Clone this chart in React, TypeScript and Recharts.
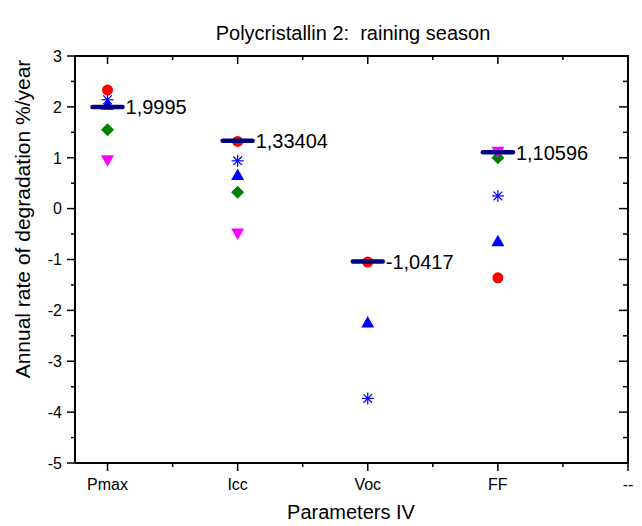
import React from "react";
import { ComposedChart, Scatter, XAxis, YAxis, Label } from "recharts";

// categories on the x axis (positions 1..5)
const categories = ["Pmax", "Icc", "Voc", "FF", "--"];

// annual degradation rate per parameter, one array per marker series
const redCircle = [2.33, 1.32, -1.05, -1.36];
const blueStar = [2.14, 0.94, -3.73, 0.25];
const blueTriangle = [2.04, 0.66, -2.24, -0.64];
const greenDiamond = [1.55, 0.32, null, 1.0];
const magentaDown = [0.95, -0.49, null, 1.12];

// mean values and their printed labels
const meanValues = [1.9995, 1.33404, -1.0417, 1.10596];
const meanLabels = ["1,9995", "1,33404", "-1,0417", "1,10596"];

const xTicks = [1, 1.5, 2, 2.5, 3, 3.5, 4, 4.5, 5];
const yTicks = [-5, -4.5, -4, -3.5, -3, -2.5, -2, -1.5, -1, -0.5, 0, 0.5, 1, 1.5, 2, 2.5, 3];
const X_DOMAIN = [0.75, 5];
const Y_DOMAIN = [-5, 3];

const FONT = "'Liberation Sans', Arial, sans-serif";

// chart box
const W = 642;
const H = 526;
const MARGIN = { top: 56, right: 14, bottom: 0, left: 0 };
const Y_AXIS_W = 75;
const X_AXIS_H = 63;
const PLOT_L = MARGIN.left + Y_AXIS_W;
const PLOT_T = MARGIN.top;
const PLOT_W = W - MARGIN.left - MARGIN.right - Y_AXIS_W;
const PLOT_H = H - MARGIN.top - MARGIN.bottom - X_AXIS_H;

type Pt = { x: number; y: number; label?: string };

function toPoints(values: (number | null)[], labels?: string[]): Pt[] {
  const out: Pt[] = [];
  values.forEach((v, i) => {
    if (v !== null) out.push({ x: i + 1, y: v, label: labels ? labels[i] : undefined });
  });
  return out;
}

const isMajor = (v: number) => Number.isInteger(v);

function BottomTick(props: any) {
  const { x, y, payload } = props;
  const major = isMajor(payload.value);
  return (
    <g>
      <line x1={x} x2={x} y1={y} y2={y + (major ? 8 : 4)} stroke="#000" strokeWidth={1.5} />
      {major && (
        <text x={x} y={y + 27} textAnchor="middle" fontSize={16} fontFamily={FONT} fill="#000">
          {categories[payload.value - 1]}
        </text>
      )}
    </g>
  );
}

function LeftTick(props: any) {
  const { x, y, payload } = props;
  const major = isMajor(payload.value);
  return (
    <g>
      <line x1={x} x2={x - (major ? 8 : 4)} y1={y} y2={y} stroke="#000" strokeWidth={1.5} />
      {major && (
        <text x={x - 13} y={y} dy="0.36em" textAnchor="end" fontSize={16} fontFamily={FONT} fill="#000">
          {payload.value}
        </text>
      )}
    </g>
  );
}

// top and right frame with inward ticks, laid over the chart on the same plot box
function Frame() {
  const sx = (v: number) => PLOT_L + ((v - X_DOMAIN[0]) / (X_DOMAIN[1] - X_DOMAIN[0])) * PLOT_W;
  const sy = (v: number) => PLOT_T + ((Y_DOMAIN[1] - v) / (Y_DOMAIN[1] - Y_DOMAIN[0])) * PLOT_H;
  const R = PLOT_L + PLOT_W;
  const B = PLOT_T + PLOT_H;
  return (
    <svg
      width={W}
      height={H}
      style={{ position: "absolute", left: 0, top: 0, pointerEvents: "none" }}
    >
      <line x1={PLOT_L} x2={R + 1} y1={PLOT_T} y2={PLOT_T} stroke="#000" strokeWidth={2} />
      <line x1={R} x2={R} y1={PLOT_T} y2={B + 1} stroke="#000" strokeWidth={2} />
      {xTicks
        .filter((v) => v < X_DOMAIN[1])
        .map((v) => (
          <line key={"t" + v} x1={sx(v)} x2={sx(v)} y1={PLOT_T} y2={PLOT_T + (isMajor(v) ? 8 : 4)} stroke="#000" strokeWidth={1.5} />
        ))}
      {yTicks
        .filter((v) => v < Y_DOMAIN[1] && v > Y_DOMAIN[0])
        .map((v) => (
          <line key={"r" + v} x1={R} x2={R - (isMajor(v) ? 9 : 5)} y1={sy(v)} y2={sy(v)} stroke="#000" strokeWidth={1.5} />
        ))}
    </svg>
  );
}

const CircleShape = (p: any) => <circle cx={p.cx} cy={p.cy} r={5.5} fill="#ff0000" />;

const StarShape = (p: any) => {
  const { cx, cy } = p;
  const r = 6;
  const d = r * 0.72;
  return (
    <g stroke="#0000ff" strokeWidth={1.2}>
      <line x1={cx - r} x2={cx + r} y1={cy} y2={cy} />
      <line x1={cx} x2={cx} y1={cy - r} y2={cy + r} />
      <line x1={cx - d} x2={cx + d} y1={cy - d} y2={cy + d} />
      <line x1={cx - d} x2={cx + d} y1={cy + d} y2={cy - d} />
    </g>
  );
};

const TriangleShape = (p: any) => {
  const { cx, cy } = p;
  return <polygon points={`${cx},${cy - 6.5} ${cx + 6.5},${cy + 5} ${cx - 6.5},${cy + 5}`} fill="#0000ff" />;
};

const DiamondShape = (p: any) => {
  const { cx, cy } = p;
  return <polygon points={`${cx},${cy - 6.5} ${cx + 6.5},${cy} ${cx},${cy + 6.5} ${cx - 6.5},${cy}`} fill="#008000" />;
};

const DownShape = (p: any) => {
  const { cx, cy } = p;
  return <polygon points={`${cx - 6.5},${cy - 5} ${cx + 6.5},${cy - 5} ${cx},${cy + 6.5}`} fill="#ff00ff" />;
};

const MeanShape = (p: any) => {
  const { cx, cy, payload } = p;
  return (
    <g>
      <line x1={cx - 15} x2={cx + 15} y1={cy} y2={cy} stroke="#000080" strokeWidth={4.5} strokeLinecap="round" />
      <text x={cx + 18} y={cy} dy="0.36em" fontSize={20} fontFamily={FONT} fill="#000">
        {payload.label}
      </text>
    </g>
  );
};

export default function App() {
  return (
    <div style={{ position: "absolute", left: 0, top: 0, width: W, height: H, background: "#fff" }}>
      <ComposedChart width={W} height={H} margin={MARGIN}>
        <XAxis
          xAxisId="b"
          type="number"
          dataKey="x"
          domain={X_DOMAIN}
          ticks={xTicks}
          interval={0}
          height={X_AXIS_H}
          tickSize={0}
          tickMargin={0}
          tickLine={false}
          tick={<BottomTick />}
          axisLine={{ stroke: "#000", strokeWidth: 2 }}
          allowDataOverflow
        >
          <Label
            content={() => (
              <text x={351} y={519} textAnchor="middle" fontSize={20} fontFamily={FONT} fill="#000">
                Parameters IV
              </text>
            )}
          />
        </XAxis>
        <YAxis
          yAxisId="l"
          type="number"
          dataKey="y"
          domain={Y_DOMAIN}
          ticks={yTicks}
          interval={0}
          width={Y_AXIS_W}
          tickSize={0}
          tickMargin={0}
          tickLine={false}
          tick={<LeftTick />}
          axisLine={{ stroke: "#000", strokeWidth: 2 }}
          allowDataOverflow
        >
          <Label
            content={() => (
              <g>
                <text
                  x={30}
                  y={219}
                  textAnchor="middle"
                  fontSize={21}
                  fontFamily={FONT}
                  fill="#000"
                  transform="rotate(-90 30 219)"
                >
                  Annual rate of degradation %/year
                </text>
                <text
                  x={353}
                  y={40}
                  textAnchor="middle"
                  fontSize={20}
                  fontFamily={FONT}
                  fill="#000"
                  style={{ whiteSpace: "pre" }}
                >
                  {"Polycristallin 2:  raining season"}
                </text>
              </g>
            )}
          />
        </YAxis>

        <Scatter xAxisId="b" yAxisId="l" data={toPoints(redCircle)} shape={CircleShape} isAnimationActive={false} />
        <Scatter xAxisId="b" yAxisId="l" data={toPoints(blueStar)} shape={StarShape} isAnimationActive={false} />
        <Scatter xAxisId="b" yAxisId="l" data={toPoints(blueTriangle)} shape={TriangleShape} isAnimationActive={false} />
        <Scatter xAxisId="b" yAxisId="l" data={toPoints(greenDiamond)} shape={DiamondShape} isAnimationActive={false} />
        <Scatter xAxisId="b" yAxisId="l" data={toPoints(magentaDown)} shape={DownShape} isAnimationActive={false} />
        <Scatter
          xAxisId="b"
          yAxisId="l"
          data={toPoints(meanValues, meanLabels)}
          shape={MeanShape}
          isAnimationActive={false}
        />
      </ComposedChart>
      <Frame />
    </div>
  );
}
